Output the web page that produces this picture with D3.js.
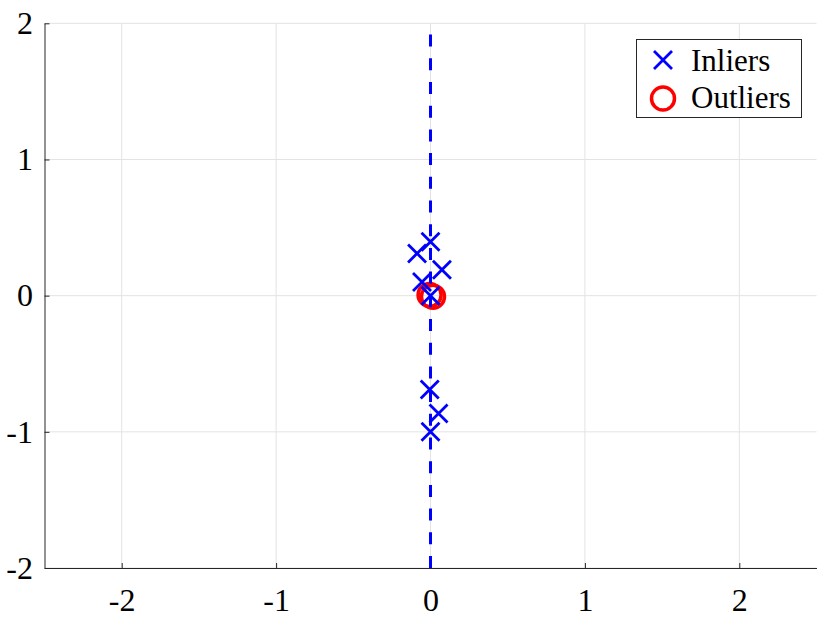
<!DOCTYPE html>
<html>
<head>
<meta charset="utf-8">
<script src="https://cdn.jsdelivr.net/npm/d3@7"></script>
<style>
  html, body { margin: 0; padding: 0; background: #fff; }
  svg { display: block; }
</style>
</head>
<body>
<svg id="chart" width="830" height="623"></svg>
<script>
// ---- data ----
const inlierX = [0.0, -0.087, 0.074, -0.055, 0.0, -0.005, 0.052, 0.0];
const inlierY = [0.395, 0.31, 0.19, 0.10, 0.0, -0.69, -0.865, -1.0];
const outlierX = [-0.006, 0.016];
const outlierY = [0.005, -0.008];
const lineX = [0, 0];
const lineY = [-2, 2];
const xTicks = [-2, -1, 0, 1, 2];
const yTicks = [-2, -1, 0, 1, 2];
const xDomain = [-2.5, 2.5];
const yDomain = [-2, 2];
const legendLabels = ["Inliers", "Outliers"];

(function () {
// ---- layout ----
const svg = d3.select("#chart");
const pLeft = 44.5, pRight = 816.5, pTop = 23.3, pBottom = 568;
const x = d3.scaleLinear().domain(xDomain).range([pLeft, pRight]);
const y = d3.scaleLinear().domain(yDomain).range([pBottom, pTop]);
const font = "'Liberation Serif', 'Times New Roman', serif";
const axisColor = "#262626";
const gridColor = "#e3e3e3";

// grid
const grid = svg.append("g");
grid.selectAll(".gx").data(xTicks).join("line")
  .attr("x1", d => x(d)).attr("x2", d => x(d))
  .attr("y1", pTop).attr("y2", pBottom)
  .attr("stroke", gridColor).attr("stroke-width", 1);
grid.selectAll(".gy").data(yTicks).join("line")
  .attr("x1", pLeft).attr("x2", pRight)
  .attr("y1", d => y(d)).attr("y2", d => y(d))
  .attr("stroke", gridColor).attr("stroke-width", 1);

// axes
const xAxis = d3.axisBottom(x).tickValues(xTicks).tickFormat(d3.format("d"))
  .tickSizeInner(-5).tickSizeOuter(0).tickPadding(20);
const yAxis = d3.axisLeft(y).tickValues(yTicks).tickFormat(d3.format("d"))
  .tickSizeInner(-5).tickSizeOuter(0).tickPadding(11.5);

const gx = svg.append("g").attr("transform", `translate(0,${pBottom})`).call(xAxis);
const gy = svg.append("g").attr("transform", `translate(${pLeft},0)`).call(yAxis);
[gx, gy].forEach(g => {
  g.attr("font-size", null).attr("font-family", null);
  g.select(".domain").attr("stroke", axisColor).attr("stroke-width", 1);
  g.selectAll(".tick line").attr("stroke", axisColor).attr("stroke-width", 1);
  g.selectAll(".tick text")
    .attr("fill", "#000")
    .style("font-family", font)
    .style("font-size", "32px")
    .text(d => d < 0 ? "-" + Math.abs(d) : String(d));
});

// marker helpers
function crossPath(cx, cy, h) {
  return `M${cx - h},${cy - h}L${cx + h},${cy + h}M${cx - h},${cy + h}L${cx + h},${cy - h}`;
}

const inliers = inlierX.map((v, i) => ({ x: v, y: inlierY[i] }));
const outliers = outlierX.map((v, i) => ({ x: v, y: outlierY[i] }));

// outliers (circles)
svg.append("g").selectAll("circle").data(outliers).join("circle")
  .attr("cx", d => x(d.x)).attr("cy", d => y(d.y)).attr("r", 11.5)
  .attr("fill", "none").attr("stroke", "#ff0000").attr("stroke-width", 3.5);

// inliers (crosses)
svg.append("g").selectAll("path").data(inliers).join("path")
  .attr("d", d => crossPath(x(d.x), y(d.y), 9))
  .attr("fill", "none").attr("stroke", "#0000ff").attr("stroke-width", 2.8);

// dashed line
const lineData = lineX.map((v, i) => [v, lineY[i]]);
svg.append("path")
  .datum(lineData)
  .attr("d", d3.line().x(d => x(d[0])).y(d => y(d[1])))
  .attr("fill", "none").attr("stroke", "#0000ff").attr("stroke-width", 3)
  .attr("stroke-dasharray", "12,11.7");

// legend
const lg = svg.append("g");
lg.append("rect").attr("x", 636.5).attr("y", 39.5).attr("width", 165).attr("height", 78)
  .attr("fill", "#fff").attr("stroke", axisColor).attr("stroke-width", 1);
lg.append("path").attr("d", crossPath(663, 60, 9))
  .attr("fill", "none").attr("stroke", "#0000ff").attr("stroke-width", 2.8);
lg.append("circle").attr("cx", 663).attr("cy", 98.5).attr("r", 11.5)
  .attr("fill", "none").attr("stroke", "#ff0000").attr("stroke-width", 3.5);
lg.selectAll("text").data(legendLabels).join("text")
  .attr("x", 691).attr("y", (d, i) => i === 0 ? 71 : 108)
  .style("font-family", font).style("font-size", "31px").attr("fill", "#000")
  .text(d => d);
})();
</script>
</body>
</html>
